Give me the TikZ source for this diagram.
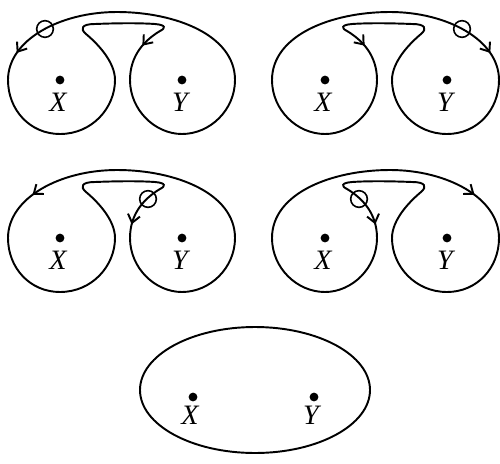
\documentclass[tikz,border=0pt]{standalone}
\usepackage{fontspec}
\setmainfont{Liberation Serif}
\usetikzlibrary{arrows.meta,decorations.markings}
\newcommand{\looppath}{(235,80) .. controls (235,35) and (175,12) .. (117,12)
  .. controls (60,12) and (8,40) .. (8,80)
  .. controls (8,110) and (30,134) .. (60,134)
  .. controls (92,134) and (115,108) .. (115,80)
  .. controls (115,62) and (98,44) .. (86,34)
  .. controls (80,29) and (81,24) .. (95,24)
  .. controls (120,23) and (140,23) .. (155,24)
  .. controls (166,25) and (166,28) .. (160,31)
  .. controls (145,40) and (130,55) .. (130,80)
  .. controls (130,110) and (155,134) .. (182,134)
  .. controls (210,134) and (235,110) .. (235,80) -- cycle}
\begin{document}
\begin{tikzpicture}[x=0.02cm,y=-0.02cm,
  curve/.style={line width=1.1pt},
  tips/.style 2 args={postaction={decorate,decoration={markings,
    mark=at position #1 with {\arrow{Straight Barb[length=4.5pt,width=7pt]}},
    mark=at position #2 with {\arrow{Straight Barb[length=4.5pt,width=7pt]}}}}},
  ring/.style={draw,circle,line width=0.9pt,minimum size=9.5pt,inner sep=0pt},
  spot/.style={fill,circle,minimum size=5pt,inner sep=0pt},
  every node/.style={font=\fontsize{16}{18}\selectfont\itshape}]
\useasboundingbox (0,0) rectangle (500,463);
\draw[curve,tips={0.312}{0.757}] \looppath;
\node[ring] (c1) at (45,29) {};
\begin{scope}[shift={(507,0)},xscale=-1]
\draw[curve,tips={0.312}{0.757}] \looppath;
\node[ring] (c2) at (45,29) {};
\end{scope}
\begin{scope}[shift={(0,158)}]
\draw[curve,tips={0.285}{0.785}] \looppath;
\node[ring] (c3) at (148,41) {};
\end{scope}
\begin{scope}[shift={(507,158)},xscale=-1]
\draw[curve,tips={0.285}{0.785}] \looppath;
\node[ring] (c4) at (148,41) {};
\end{scope}
\foreach \ox/\oy/\n in {0/0/1,265/0/2,0/158/3,265/158/4}{
  \node[spot] (x\n) at (60+\ox,80+\oy) {};
  \node[spot] (y\n) at (182+\ox,80+\oy) {};
  \node (lx\n) at (58+\ox,102+\oy) {X};
  \node (ly\n) at (180+\ox,102+\oy) {Y};
}
\draw[curve] (255,390) ellipse [x radius=115,y radius=63];
\node[spot] (x5) at (193,397) {};
\node[spot] (y5) at (314,397) {};
\node (lx5) at (190,415) {X};
\node (ly5) at (311,415) {Y};
\end{tikzpicture}
\end{document}
